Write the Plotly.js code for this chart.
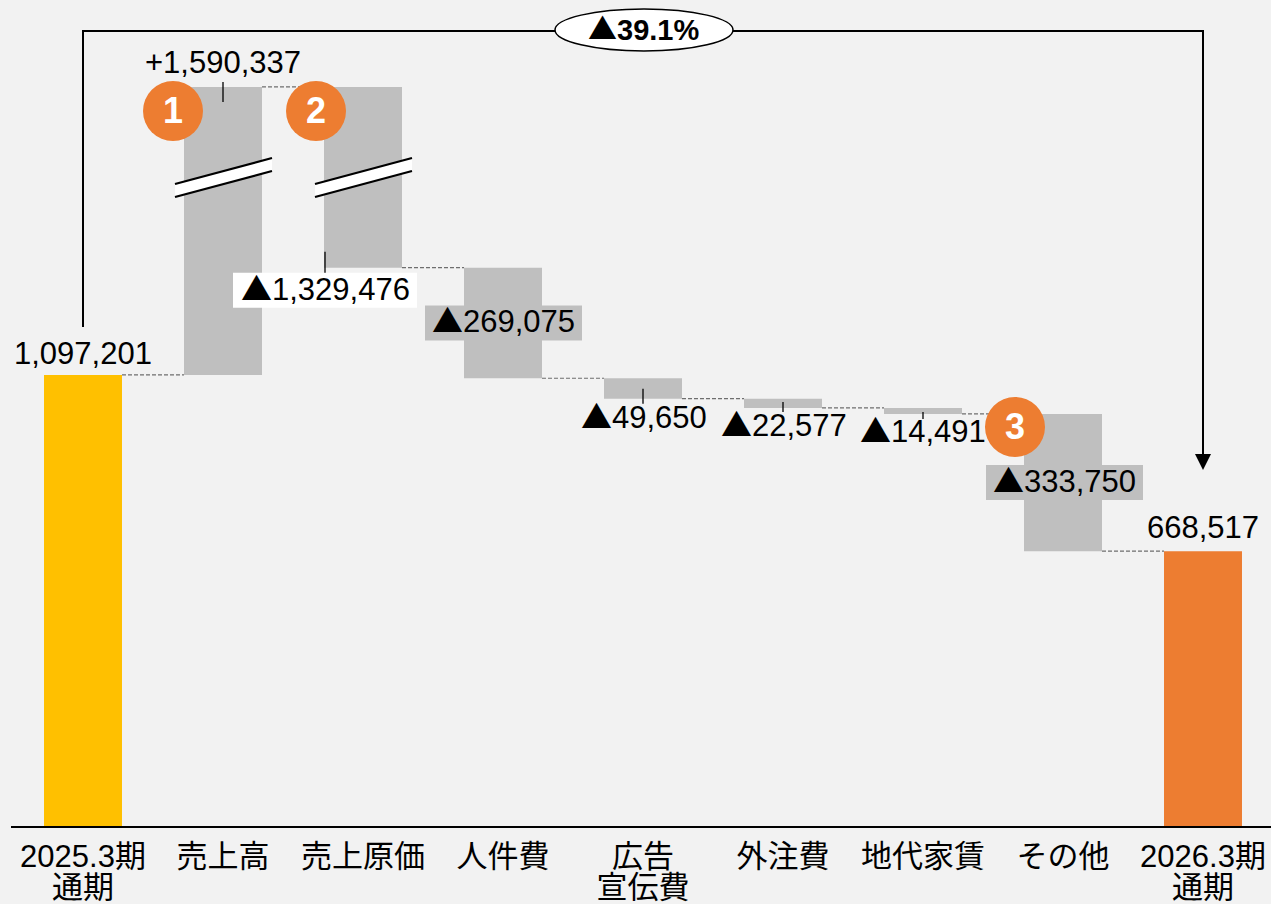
<!DOCTYPE html>
<html><head><meta charset="utf-8">
<script src="https://cdn.plot.ly/plotly-3.0.1.min.js"></script>
<style>html,body{margin:0;padding:0;background:#F2F2F2;}#chart{width:1271px;height:904px;}</style>
</head><body><div id="chart"></div>
<script>
// ---- data ----
const categories = ["2025.3期\n通期","売上高","売上原価","人件費","広告\n宣伝費","外注費","地代家賃","その他","2026.3期\n通期"];
const startValue = 1097201;
const changes = [1590337,-1329476,-269075,-49650,-22577,-14491,-333750];
const endValue = 668517;
const badgeNumbers = ["1","2","3"];
const badgeBars = [1,2,7];

// ---- styling / layout constants ----
const Y_MAX = 2009000;
const BREAK_CUT = 890000;      // amount removed by the axis break
const BREAK_LEVEL = 1576000;   // displayed level of the break marks
const W = 0.557;
const FONT = 'Liberation Sans, Arial, Noto Sans CJK JP, sans-serif';
const GRAY = '#BFBFBF';
const YELLOW = '#FFC000';
const ORANGE = '#ED7D31';
const TRI = '<span style="font-family:Noto Sans CJK JP">▲</span>';

const disp = v => v > Y_MAX ? v - BREAK_CUT : v;
const fmt = v => (v < 0 ? TRI : '+') + Math.abs(v).toLocaleString('en-US');

const levels = [startValue];
changes.forEach(c => levels.push(levels[levels.length - 1] + c));
const xs = categories.map((_, i) => i);
const bases = [0], heights = [startValue], colors = [YELLOW];
changes.forEach((c, k) => {
  const a = disp(levels[k]), b = disp(levels[k + 1]);
  bases.push(Math.min(a, b)); heights.push(Math.abs(b - a)); colors.push(GRAY);
});
bases.push(0); heights.push(endValue); colors.push(ORANGE);
const tops = bases.map((b, i) => b + heights[i]);
const mids = bases.map((b, i) => b + heights[i] / 2);

const trace = {
  type: 'bar', x: xs, y: heights, base: bases, width: W,
  marker: { color: colors, line: { width: 0 } },
  hoverinfo: 'skip'
};

const shapes = [];
const annotations = [];

// connectors
for (let i = 0; i < xs.length - 1; i++) {
  const lv = disp(levels[i]);
  shapes.push({ type: 'line', xref: 'x', yref: 'y', x0: i + W / 2, x1: i + 1 - W / 2, y0: lv, y1: lv,
    line: { color: '#6E6E6E', width: 1.2, dash: '4px,2px' } });
}

// total labels
annotations.push({ x: 0, y: tops[0], xref: 'x', yref: 'y', text: startValue.toLocaleString('en-US'), showarrow: false,
  xanchor: 'center', yanchor: 'middle', yshift: 21.5, font: { family: FONT, size: 31, color: '#000' } });
annotations.push({ x: 8, y: tops[8], xref: 'x', yref: 'y', text: endValue.toLocaleString('en-US'), showarrow: false,
  xanchor: 'center', yanchor: 'middle', yshift: 24, font: { family: FONT, size: 31, color: '#000' } });

// change labels placement (pixel offsets)
const place = [
  { at: 'top', dx: 0, dy: 24, bg: null, lead: [0, 5, -15] },
  { at: 'bottom', dx: -38, dy: -22.5, bg: '#FFFFFF', boxW: 184, lead: [-38, 16, -5] },
  { at: 'mid', dx: 0.5, dy: 0, bg: GRAY, boxW: 157, lead: null },
  { at: 'bottom', dx: 1, dy: -20, bg: null, lead: [0, 10, -5] },
  { at: 'bottom', dx: 1, dy: -19, bg: null, lead: [0, 6, -4] },
  { at: 'bottom', dx: 0, dy: -19, bg: null, lead: [0, 2, -5] },
  { at: 'mid', dx: 1.5, dy: 0, bg: GRAY, boxW: 157, lead: null }
];
changes.forEach((c, k) => {
  const i = k + 1, p = place[k];
  const yv = p.at === 'top' ? tops[i] : p.at === 'bottom' ? bases[i] : mids[i];
  if (p.bg) {
    shapes.push({ type: 'rect', xref: 'x', yref: 'y', xsizemode: 'pixel', ysizemode: 'pixel',
      xanchor: i, yanchor: yv, x0: p.dx - p.boxW / 2, x1: p.dx + p.boxW / 2, y0: p.dy - 17.5, y1: p.dy + 17.5,
      fillcolor: p.bg, line: { width: 0 } });
  }
  const tshift = c < 0 ? 4 : 0;
  annotations.push({ x: i, y: yv, xref: 'x', yref: 'y', text: fmt(c), showarrow: false,
    xanchor: 'center', yanchor: 'middle', xshift: p.dx, yshift: p.dy + tshift,
    font: { family: FONT, size: 31, color: '#000' } });
  if (p.lead) {
    shapes.push({ type: 'line', xref: 'x', yref: 'y', xsizemode: 'pixel', ysizemode: 'pixel',
      xanchor: i, yanchor: yv, x0: p.lead[0], x1: p.lead[0], y0: p.lead[1], y1: p.lead[2],
      line: { color: '#000', width: 1.3 } });
  }
});

// break marks on bars spanning the break
xs.forEach(i => {
  if (bases[i] < BREAK_LEVEL && tops[i] > BREAK_LEVEL && i > 0 && i < 8) {
    shapes.push({ type: 'path', xref: 'x', yref: 'y', xsizemode: 'pixel', ysizemode: 'pixel',
      xanchor: i, yanchor: BREAK_LEVEL, path: 'M -48,-6 L 49,20 L 49,7 L -48,-19 Z',
      fillcolor: '#FFFFFF', line: { width: 0 } });
    shapes.push({ type: 'path', xref: 'x', yref: 'y', xsizemode: 'pixel', ysizemode: 'pixel',
      xanchor: i, yanchor: BREAK_LEVEL, path: 'M -48,-6 L 49,20', line: { color: '#000', width: 2.2 } });
    shapes.push({ type: 'path', xref: 'x', yref: 'y', xsizemode: 'pixel', ysizemode: 'pixel',
      xanchor: i, yanchor: BREAK_LEVEL, path: 'M -48,-19 L 49,7', line: { color: '#000', width: 2.2 } });
  }
});

// numbered badges
const badgeOffsets = [[-50, -24], [-47, -24], [-48, -13]];
badgeBars.forEach((b, j) => {
  const [dx, dy] = badgeOffsets[j];
  shapes.push({ type: 'circle', xref: 'x', yref: 'y', xsizemode: 'pixel', ysizemode: 'pixel',
    xanchor: b, yanchor: tops[b], x0: dx - 30, x1: dx + 30, y0: dy - 30, y1: dy + 30,
    fillcolor: ORANGE, line: { width: 0 } });
  annotations.push({ x: b, y: tops[b], xref: 'x', yref: 'y', text: '<b>' + badgeNumbers[j] + '</b>', showarrow: false,
    xanchor: 'center', yanchor: 'middle', xshift: dx, yshift: dy,
    font: { family: FONT, size: 36, color: '#FFFFFF' } });
});

// overall change bracket
const BR_TOP = 0.9625, BR_LEFT = 0.604, BR_RIGHT = 0.449, BR_TIP = 0.431;
shapes.push({ type: 'path', xref: 'x', yref: 'paper',
  path: `M 0,${BR_LEFT} L 0,${BR_TOP} L 8,${BR_TOP} L 8,${BR_RIGHT}`, line: { color: '#000', width: 2 } });
shapes.push({ type: 'path', xref: 'x', yref: 'paper', xsizemode: 'pixel', ysizemode: 'pixel',
  xanchor: 8, yanchor: BR_TIP, path: 'M -8,16 L 8,16 L 0,0 Z', fillcolor: '#000', line: { width: 0 } });
shapes.push({ type: 'circle', xref: 'x', yref: 'paper', xsizemode: 'pixel', ysizemode: 'pixel',
  xanchor: 4, yanchor: BR_TOP, x0: -88, x1: 90, y0: -20, y1: 22,
  fillcolor: '#FFFFFF', line: { color: '#000', width: 1.5 } });
const pct = (endValue - startValue) / startValue * 100;
annotations.push({ x: 4, y: BR_TOP, xref: 'x', yref: 'paper', text: '<b>' + (pct < 0 ? TRI : '+') + Math.abs(pct).toFixed(1) + '%</b>',
  showarrow: false, xanchor: 'center', yanchor: 'middle', yshift: 4,
  font: { family: FONT, size: 29, color: '#000' } });

const ticktext = categories.map(c => c.split('\n').map(s => `<span style="font-size:31px">${s}</span>`).join('<br>'));

const layout = {
  width: 1271, height: 904,
  margin: { l: 11, r: 0, t: 0, b: 78, pad: 0 },
  paper_bgcolor: '#F2F2F2', plot_bgcolor: '#F2F2F2',
  showlegend: false,
  xaxis: { range: [-0.5143, 8.4857], tickvals: xs, ticktext: ticktext, showline: true, linecolor: '#000', linewidth: 2,
    ticks: '', showgrid: false, zeroline: false, fixedrange: true, ticklabelstandoff: 10,
    tickfont: { family: FONT, size: 24, color: '#000' } },
  yaxis: { range: [0, Y_MAX], visible: false, fixedrange: true },
  shapes: shapes, annotations: annotations
};

Plotly.newPlot('chart', [trace], layout, { staticPlot: true, displayModeBar: false });
</script></body></html>
